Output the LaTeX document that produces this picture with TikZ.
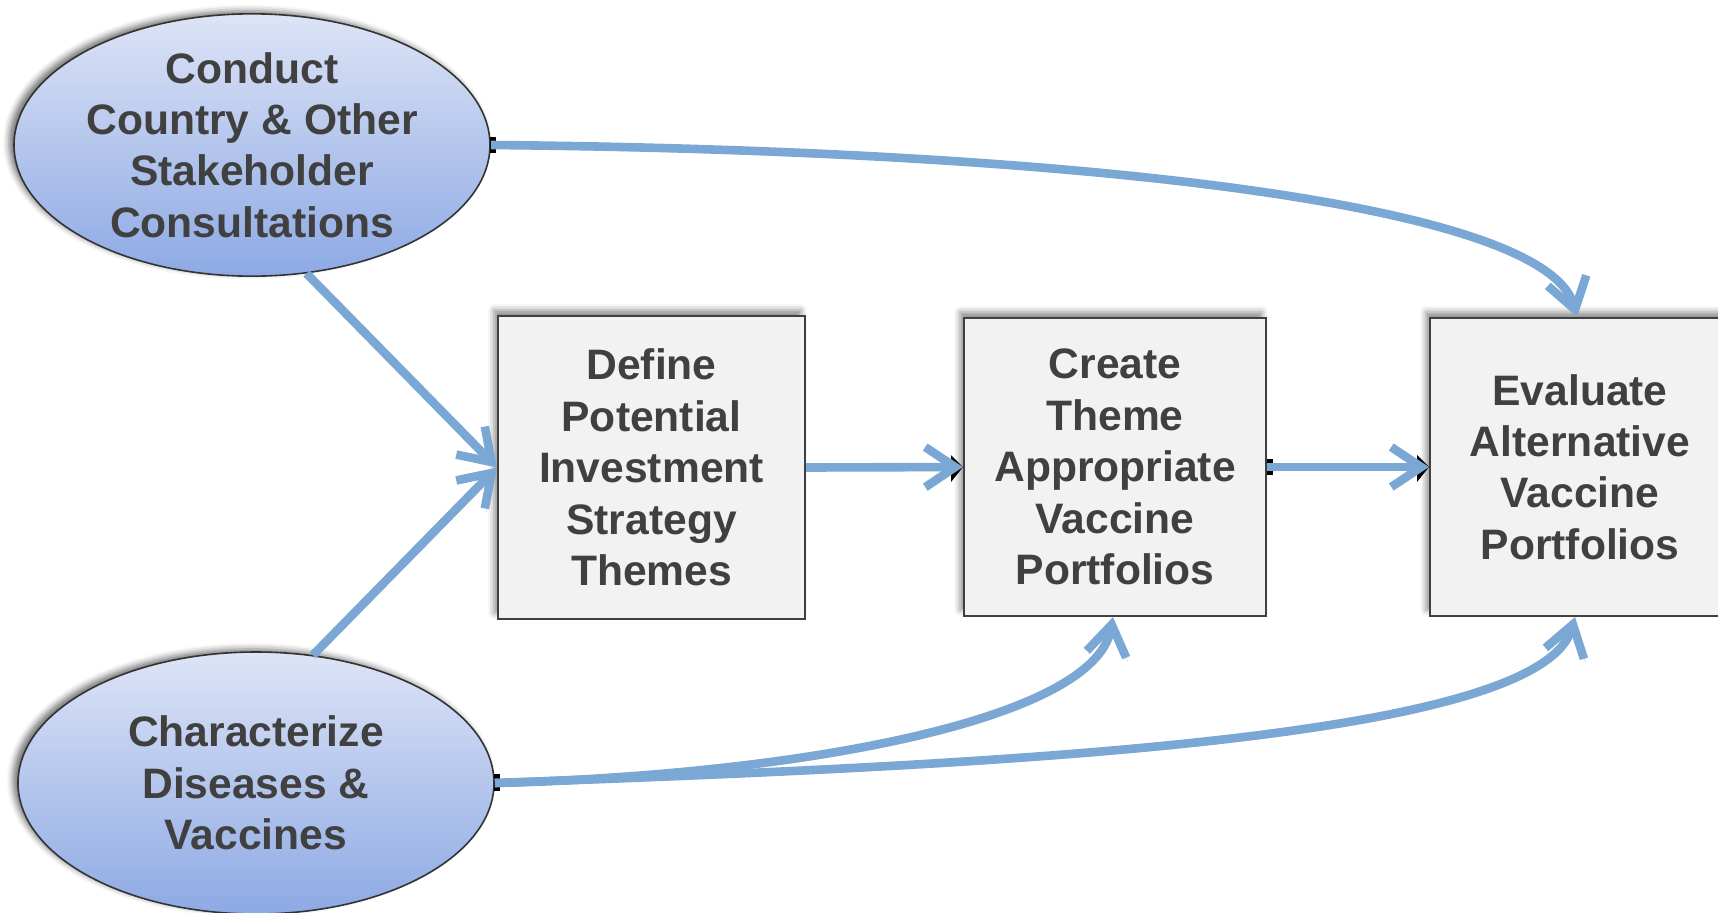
\documentclass[tikz,border=0pt]{standalone}
\usepackage{fontspec}
\setmainfont{Liberation Sans}
\usetikzlibrary{shapes.geometric,arrows.meta,shadows.blur}
\definecolor{txt}{HTML}{404040}
\definecolor{connc}{HTML}{7BA7D4}
\definecolor{boxfill}{HTML}{F2F2F2}
\definecolor{elltop}{HTML}{DDE4F6}
\definecolor{ellbot}{HTML}{8DA9E4}
\begin{document}
\begin{tikzpicture}[x=0.5pt,y=-0.5pt,
  lbl/.style={font=\bfseries\fontsize{21.3pt}{25.7pt}\selectfont, text=txt, align=center},
  ellnode/.style={lbl, ellipse, draw=black!80, line width=0.8pt, top color=elltop, bottom color=ellbot,
    minimum width=238pt, minimum height=131pt, inner sep=0pt,
    blur shadow={shadow xshift=-2.5pt, shadow yshift=1.5pt, shadow blur radius=3pt, shadow opacity=55}},
  boxnode/.style={lbl, rectangle, draw=txt, line width=1pt, fill=boxfill, inner sep=0pt,
    blur shadow={shadow xshift=-2pt, shadow yshift=3pt, shadow blur radius=3pt, shadow opacity=45}},
  connector/.style={draw=connc, line width=4.3pt,
    -{Straight Barb[length=15pt,width=20pt]},
    preaction={draw=black, opacity=0.12, transform canvas={xshift=0.8pt, yshift=-1.8pt}}}
]
\useasboundingbox (0,0) rectangle (1718,912);
\clip (0,0) rectangle (1718,912);

\node[ellnode] (e1) at (252,145) {Conduct\\Country \& Other\\Stakeholder\\Consultations};
\node[ellnode] (e2) at (256,783) {Characterize\\Diseases \&\\Vaccines};

\node[boxnode, minimum width=153.5pt, minimum height=151.5pt] (b1) at (651.5,467.5)
  {Define\\Potential\\Investment\\Strategy\\Themes};
\node[boxnode, minimum width=151pt, minimum height=149pt] (b2) at (1115,467)
  {Create\\Theme\\Appropriate\\Vaccine\\Portfolios};
\node[boxnode, minimum width=150pt, minimum height=149pt] (b3) at (1580,467)
  {Evaluate\\Alternative\\Vaccine\\Portfolios};

% small black marks left by the original arrows
\fill[black] ([shift={(-1,-8)}]e1.east) rectangle +(6,16);
\fill[black] ([shift={(-1,-9)}]e2.east) rectangle +(6,17);
\fill[black] ([shift={(0,-8)}]b2.east) rectangle +(6,16);
\fill[black] ([shift={(-12,-12)}]b2.west) -- (b2.west) -- ([shift={(-12,15)}]b2.west) -- cycle;
\fill[black] ([shift={(-12,-12)}]b3.west) -- (b3.west) -- ([shift={(-12,15)}]b3.west) -- cycle;

% connectors
\draw[connector] (e1.-67) -- (b1.west);
\draw[connector] (e2.66) -- (b1.west);
\draw[connector] (b1.east) -- (b2.west);
\draw[connector] (b2.east) -- (b3.west);
\draw[connector] (e1.east) .. controls (1050,150) and (1545,200) .. ([xshift=-1.5pt]b3.north);
\draw[connector] (e2.east) .. controls (800,775) and (1095,720) .. ([xshift=-1pt]b2.south);
\draw[connector] (e2.east) .. controls (1000,765) and (1540,740) .. ([xshift=-2.5pt]b3.south);
\end{tikzpicture}
\end{document}
